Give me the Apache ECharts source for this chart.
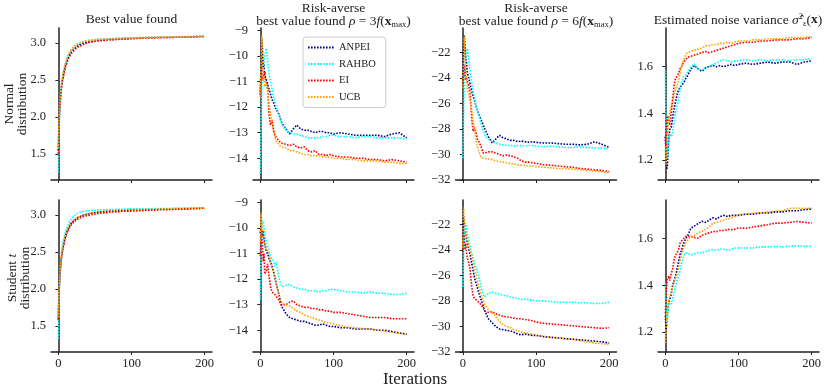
<!DOCTYPE html>
<html>
<head>
<meta charset="UTF-8">
<title>Noise benchmark</title>
<script src="https://cdn.jsdelivr.net/npm/echarts@6/dist/echarts.min.js"></script>
<style>
  html, body { margin: 0; padding: 0; background: #fff; }
</style>
</head>
<body>
<div id="main" style="width: 830px;height: 391px"></div>
<script>
// iteration grid the values were read at
var iters = [0,1,2,3,4,5,6,8,10,12,14,16,18,20,22,25,28,30,35,40,45,50,55,60,65,70,75,80,85,90,95,100,110,120,130,140,150,160,170,180,190,200];

var methods = ['ANPEI', 'RAHBO', 'EI', 'UCB'];
var colors = ['#00008b', '#00ffff', '#ff0000', '#ffa500'];

// --- Normal distribution: best value found
var normBestAnpei = [1.55,1.95,2.15,2.28,2.38,2.46,2.52,2.62,2.70,2.76,2.81,2.85,2.88,2.90,2.92,2.95,2.97,2.98,3.00,3.01,3.02,3.03,3.035,3.04,3.045,3.05,3.05,3.055,3.055,3.06,3.06,3.065,3.065,3.07,3.07,3.075,3.075,3.08,3.08,3.08,3.085,3.085];
var normBestRahbo = [1.25,1.80,2.12,2.30,2.40,2.48,2.55,2.65,2.72,2.78,2.83,2.87,2.90,2.92,2.94,2.97,2.99,3.00,3.02,3.03,3.04,3.045,3.05,3.05,3.055,3.055,3.06,3.06,3.06,3.065,3.065,3.065,3.07,3.07,3.075,3.075,3.08,3.08,3.085,3.085,3.09,3.09];
var normBestEi    = [1.50,1.92,2.12,2.26,2.36,2.44,2.50,2.60,2.68,2.74,2.79,2.83,2.86,2.88,2.90,2.93,2.95,2.96,2.98,3.00,3.01,3.02,3.025,3.03,3.035,3.04,3.04,3.045,3.05,3.05,3.05,3.055,3.06,3.065,3.065,3.07,3.07,3.075,3.075,3.08,3.08,3.085];
var normBestUcb   = [1.58,2.00,2.20,2.32,2.42,2.50,2.56,2.66,2.74,2.80,2.85,2.89,2.92,2.94,2.96,2.98,3.00,3.01,3.02,3.03,3.035,3.04,3.045,3.05,3.05,3.055,3.055,3.06,3.06,3.065,3.065,3.065,3.07,3.07,3.075,3.075,3.08,3.08,3.08,3.085,3.085,3.09];

// --- Normal distribution: risk-averse rho = 3 f(x_max)
var normR3Anpei = [-11.5,-10.2,-9.3,-9.8,-10.5,-10.3,-10.8,-10.9,-11.1,-11.3,-11.5,-11.7,-11.8,-12.0,-12.1,-12.25,-12.5,-12.65,-12.85,-13.05,-12.85,-12.7,-12.85,-12.9,-12.9,-12.95,-13.0,-12.95,-12.95,-13.0,-13.0,-13.05,-13.0,-13.05,-13.1,-13.1,-13.1,-13.1,-13.15,-13.05,-13.0,-13.2];
var normR3Rahbo = [-14.6,-12.5,-11.2,-10.6,-10.5,-10.3,-10.0,-9.7,-10.2,-10.7,-11.0,-11.3,-11.6,-11.8,-12.0,-12.3,-12.55,-12.7,-12.9,-13.0,-13.05,-13.05,-13.1,-13.15,-13.2,-13.2,-13.2,-13.2,-13.15,-13.15,-13.1,-13.1,-13.15,-13.15,-13.2,-13.15,-13.15,-13.2,-13.2,-13.2,-13.2,-13.25];
var normR3Ei    = [-11.5,-10.8,-10.5,-10.9,-10.8,-10.7,-10.6,-11.0,-11.2,-12.3,-12.7,-12.5,-12.9,-13.1,-13.2,-13.3,-13.4,-13.35,-13.45,-13.5,-13.45,-13.55,-13.6,-13.55,-13.7,-13.75,-13.7,-13.85,-13.85,-13.9,-13.85,-13.9,-13.95,-13.95,-14.0,-14.0,-14.05,-14.05,-14.1,-14.05,-14.1,-14.15];
var normR3Ucb   = [-11.6,-10.5,-9.2,-10.0,-11.0,-10.8,-11.2,-11.1,-11.4,-11.9,-12.3,-12.6,-12.9,-13.2,-13.35,-13.45,-13.55,-13.6,-13.6,-13.7,-13.7,-13.75,-13.8,-13.85,-13.85,-13.9,-13.9,-13.9,-13.95,-13.95,-13.95,-14.0,-14.0,-14.05,-14.05,-14.1,-14.1,-14.1,-14.15,-14.15,-14.2,-14.2];

// --- Normal distribution: risk-averse rho = 6 f(x_max)
var normR6Anpei = [-24.5,-22.0,-20.7,-21.5,-22.5,-22.8,-23.5,-24.0,-24.5,-25.0,-25.4,-25.8,-26.2,-26.6,-26.9,-27.3,-27.7,-28.0,-28.6,-29.1,-28.8,-28.5,-28.7,-28.8,-28.9,-28.9,-29.0,-28.95,-29.0,-29.05,-29.0,-29.05,-29.1,-29.1,-29.15,-29.2,-29.2,-29.25,-29.2,-29.0,-29.2,-29.45];
var normR6Rahbo = [-30.3,-27.0,-24.5,-23.0,-22.3,-22.0,-21.7,-22.5,-23.5,-24.3,-25.0,-25.6,-26.1,-26.6,-27.0,-27.6,-28.2,-28.5,-28.8,-29.0,-29.1,-29.2,-29.25,-29.3,-29.3,-29.35,-29.3,-29.3,-29.35,-29.3,-29.3,-29.35,-29.4,-29.35,-29.4,-29.45,-29.45,-29.4,-29.45,-29.5,-29.5,-29.55];
var normR6Ei    = [-24.6,-23.8,-23.0,-23.6,-24.2,-24.0,-24.3,-24.6,-25.2,-27.0,-28.2,-27.9,-28.3,-28.8,-29.0,-29.4,-29.9,-30.0,-29.8,-29.8,-29.9,-30.0,-30.1,-30.05,-30.1,-30.2,-30.3,-30.5,-30.6,-30.6,-30.65,-30.7,-30.8,-30.85,-30.9,-30.95,-31.0,-31.1,-31.15,-31.2,-31.25,-31.35];
var normR6Ucb   = [-24.8,-22.5,-20.8,-22.0,-23.5,-24.0,-24.8,-25.3,-25.8,-26.5,-27.3,-28.0,-28.8,-29.4,-29.8,-30.2,-30.3,-30.4,-30.35,-30.4,-30.5,-30.55,-30.6,-30.65,-30.7,-30.75,-30.8,-30.85,-30.85,-30.9,-30.9,-30.95,-31.0,-31.05,-31.1,-31.1,-31.15,-31.2,-31.25,-31.3,-31.35,-31.45];

// --- Normal distribution: estimated noise variance
var normVarAnpei = [1.30,1.22,1.16,1.18,1.25,1.30,1.33,1.34,1.38,1.42,1.45,1.48,1.50,1.50,1.52,1.53,1.55,1.56,1.59,1.605,1.59,1.58,1.595,1.60,1.605,1.60,1.605,1.60,1.605,1.61,1.605,1.61,1.615,1.61,1.615,1.62,1.615,1.62,1.62,1.61,1.62,1.625];
var normVarRahbo = [1.585,1.35,1.25,1.21,1.26,1.30,1.31,1.30,1.32,1.36,1.40,1.43,1.46,1.50,1.53,1.56,1.565,1.57,1.60,1.61,1.59,1.585,1.595,1.60,1.61,1.615,1.625,1.63,1.625,1.62,1.625,1.625,1.63,1.625,1.63,1.625,1.63,1.63,1.625,1.63,1.63,1.635];
var normVarEi    = [1.30,1.25,1.32,1.38,1.39,1.36,1.35,1.40,1.46,1.52,1.55,1.56,1.57,1.59,1.60,1.62,1.63,1.64,1.645,1.65,1.655,1.66,1.665,1.66,1.665,1.67,1.675,1.68,1.685,1.69,1.695,1.70,1.705,1.705,1.71,1.71,1.715,1.715,1.715,1.72,1.72,1.725];
var normVarUcb   = [1.26,1.18,1.22,1.30,1.35,1.38,1.40,1.43,1.45,1.48,1.50,1.52,1.54,1.57,1.60,1.63,1.65,1.66,1.665,1.67,1.675,1.68,1.69,1.69,1.695,1.695,1.70,1.70,1.705,1.70,1.705,1.71,1.71,1.715,1.715,1.72,1.72,1.72,1.725,1.725,1.725,1.73];

// --- Student t distribution: best value found
var stuBestAnpei = [1.60,1.98,2.18,2.30,2.40,2.48,2.54,2.64,2.72,2.78,2.82,2.86,2.89,2.91,2.93,2.95,2.97,2.98,3.00,3.01,3.02,3.03,3.035,3.04,3.045,3.05,3.05,3.055,3.055,3.06,3.06,3.065,3.065,3.07,3.07,3.075,3.075,3.08,3.08,3.085,3.085,3.09];
var stuBestRahbo = [1.33,1.85,2.15,2.32,2.44,2.52,2.60,2.70,2.78,2.84,2.88,2.92,2.95,2.97,2.99,3.01,3.03,3.04,3.05,3.055,3.06,3.06,3.065,3.065,3.07,3.07,3.07,3.075,3.075,3.075,3.08,3.08,3.08,3.08,3.085,3.085,3.085,3.09,3.09,3.09,3.09,3.095];
var stuBestEi    = [1.58,1.96,2.16,2.28,2.38,2.46,2.52,2.62,2.70,2.76,2.80,2.84,2.87,2.89,2.91,2.93,2.95,2.96,2.98,2.99,3.00,3.01,3.02,3.025,3.03,3.035,3.04,3.04,3.045,3.05,3.05,3.05,3.055,3.06,3.065,3.07,3.07,3.075,3.08,3.08,3.085,3.09];
var stuBestUcb   = [1.62,2.00,2.20,2.32,2.42,2.50,2.56,2.66,2.73,2.79,2.83,2.87,2.90,2.92,2.94,2.96,2.975,2.985,3.00,3.015,3.025,3.03,3.04,3.045,3.05,3.05,3.055,3.06,3.06,3.065,3.065,3.07,3.07,3.075,3.075,3.08,3.08,3.085,3.085,3.09,3.09,3.09];

// --- Student t distribution: risk-averse rho = 3 f(x_max)
var stuR3Anpei = [-10.2,-9.9,-10.1,-10.3,-10.1,-10.4,-10.6,-10.9,-11.0,-11.2,-11.35,-11.5,-11.7,-11.95,-12.2,-12.55,-12.9,-13.1,-13.35,-13.5,-13.55,-13.6,-13.65,-13.65,-13.7,-13.75,-13.8,-13.8,-13.75,-13.8,-13.85,-13.85,-13.9,-13.9,-13.95,-13.95,-13.95,-14.0,-14.0,-14.05,-14.1,-14.15];
var stuR3Rahbo = [-12.8,-11.0,-10.0,-9.7,-9.8,-10.0,-10.2,-10.5,-10.7,-10.9,-11.1,-11.2,-11.3,-11.5,-11.3,-11.9,-12.2,-12.3,-12.25,-12.2,-12.3,-12.35,-12.4,-12.4,-12.45,-12.45,-12.45,-12.5,-12.45,-12.45,-12.4,-12.4,-12.45,-12.5,-12.5,-12.55,-12.5,-12.55,-12.55,-12.6,-12.6,-12.55];
var stuR3Ei    = [-11.1,-10.0,-10.3,-10.8,-11.3,-11.0,-11.8,-11.7,-11.4,-11.9,-12.3,-12.5,-12.5,-12.6,-12.6,-12.8,-13.0,-12.95,-13.0,-12.9,-12.85,-13.0,-13.05,-13.1,-13.1,-13.15,-13.15,-13.2,-13.2,-13.25,-13.25,-13.3,-13.3,-13.35,-13.4,-13.45,-13.5,-13.5,-13.5,-13.55,-13.55,-13.55];
var stuR3Ucb   = [-10.5,-9.4,-9.8,-10.1,-10.3,-10.5,-10.7,-10.8,-10.9,-11.0,-11.2,-11.5,-11.7,-11.9,-12.2,-12.6,-12.85,-12.95,-13.0,-13.05,-13.15,-13.25,-13.3,-13.4,-13.45,-13.5,-13.55,-13.6,-13.65,-13.7,-13.72,-13.75,-13.82,-13.88,-13.9,-13.93,-13.95,-14.0,-14.03,-14.08,-14.12,-14.18];

// --- Student t distribution: risk-averse rho = 6 f(x_max)
var stuR6Anpei = [-23.0,-21.5,-22.0,-22.4,-22.8,-23.1,-23.4,-23.9,-24.4,-25.0,-25.6,-26.2,-26.6,-27.0,-27.4,-27.9,-28.4,-28.8,-29.4,-29.7,-30.0,-30.2,-30.25,-30.3,-30.35,-30.45,-30.6,-30.65,-30.6,-30.65,-30.7,-30.7,-30.8,-30.85,-30.9,-30.95,-31.0,-31.05,-31.1,-31.15,-31.2,-31.3];
var stuR6Rahbo = [-26.9,-24.5,-23.0,-22.2,-21.9,-22.3,-22.8,-23.2,-23.8,-24.2,-24.6,-25.0,-25.4,-25.6,-25.6,-26.9,-27.5,-27.7,-27.4,-27.3,-27.4,-27.5,-27.55,-27.6,-27.7,-27.75,-27.8,-27.9,-27.85,-27.9,-27.95,-28.0,-28.0,-28.05,-28.1,-28.1,-28.1,-28.15,-28.15,-28.2,-28.2,-28.1];
var stuR6Ei    = [-24.0,-22.5,-23.2,-24.0,-23.5,-24.2,-24.6,-25.0,-25.6,-26.8,-27.6,-27.8,-27.9,-28.0,-28.1,-28.3,-28.6,-28.8,-28.9,-28.85,-29.0,-29.1,-29.2,-29.25,-29.3,-29.35,-29.4,-29.4,-29.45,-29.5,-29.55,-29.65,-29.75,-29.8,-29.85,-29.9,-29.95,-30.0,-30.05,-30.1,-30.15,-30.1];
var stuR6Ucb   = [-23.8,-20.7,-21.5,-22.2,-22.6,-22.9,-23.2,-23.7,-24.1,-24.4,-24.9,-25.4,-25.9,-26.4,-26.9,-27.5,-28.0,-28.3,-28.7,-28.9,-29.2,-29.6,-29.85,-30.0,-30.1,-30.25,-30.35,-30.45,-30.5,-30.55,-30.6,-30.7,-30.75,-30.85,-30.9,-30.95,-31.0,-31.1,-31.2,-31.3,-31.35,-31.4];

// --- Student t distribution: estimated noise variance
var stuVarAnpei = [1.27,1.21,1.24,1.28,1.31,1.33,1.34,1.36,1.40,1.42,1.44,1.47,1.50,1.53,1.55,1.58,1.60,1.61,1.645,1.655,1.665,1.675,1.67,1.68,1.69,1.685,1.695,1.70,1.695,1.70,1.70,1.70,1.705,1.705,1.71,1.71,1.715,1.715,1.72,1.72,1.725,1.727];
var stuVarRahbo = [1.41,1.30,1.24,1.27,1.30,1.32,1.33,1.32,1.34,1.37,1.40,1.42,1.44,1.46,1.49,1.525,1.54,1.546,1.53,1.535,1.54,1.54,1.545,1.55,1.553,1.55,1.555,1.555,1.55,1.555,1.56,1.56,1.56,1.56,1.565,1.565,1.567,1.565,1.567,1.57,1.567,1.567];
var stuVarEi    = [1.28,1.36,1.40,1.43,1.43,1.44,1.42,1.45,1.47,1.51,1.53,1.53,1.55,1.58,1.59,1.60,1.61,1.61,1.61,1.605,1.603,1.615,1.62,1.625,1.631,1.63,1.635,1.635,1.64,1.639,1.64,1.646,1.645,1.65,1.655,1.66,1.667,1.667,1.67,1.674,1.67,1.667];
var stuVarUcb   = [1.153,1.22,1.27,1.30,1.32,1.34,1.35,1.37,1.39,1.41,1.43,1.45,1.467,1.50,1.53,1.56,1.58,1.59,1.61,1.615,1.625,1.631,1.64,1.65,1.667,1.67,1.675,1.68,1.685,1.689,1.695,1.703,1.705,1.71,1.71,1.715,1.717,1.72,1.73,1.731,1.73,1.731];

// axis settings per column
var yMin = [1.15, -14.85, -32.0, 1.114];
var yMax = [3.2, -8.9, -20.1, 1.766];
var yTicks = [[1.5, 2.0, 2.5, 3.0], [-14, -13, -12, -11, -10, -9], [-32, -30, -28, -26, -24, -22], [1.2, 1.4, 1.6]];
var yDecimals = [1, 0, 0, 1];
var xTicks = [0, 100, 200];

var panels = [
    [normBestAnpei, normBestRahbo, normBestEi, normBestUcb],
    [normR3Anpei, normR3Rahbo, normR3Ei, normR3Ucb],
    [normR6Anpei, normR6Rahbo, normR6Ei, normR6Ucb],
    [normVarAnpei, normVarRahbo, normVarEi, normVarUcb],
    [stuBestAnpei, stuBestRahbo, stuBestEi, stuBestUcb],
    [stuR3Anpei, stuR3Rahbo, stuR3Ei, stuR3Ucb],
    [stuR6Anpei, stuR6Rahbo, stuR6Ei, stuR6Ucb],
    [stuVarAnpei, stuVarRahbo, stuVarEi, stuVarUcb]
];

var FONT = '"Liberation Serif", "DejaVu Serif", serif';
var gridLeft = [51, 253, 455.5, 658];
var gridTop = [28, 200];

function minus(v) { return String(v).replace('-', '\u2212'); }

var grids = [], xAxes = [], yAxes = [], series = [];
for (var p = 0; p < 8; p++) {
    var col = p % 4, row = Math.floor(p / 4);
    grids.push({ left: gridLeft[col], top: gridTop[row], width: 161, height: 152 });
    xAxes.push({
        type: 'value', gridIndex: p, min: -10, max: 210,
        axisLine: { lineStyle: { color: '#222', width: 1.5 } },
        axisTick: { show: true, length: 3, customValues: xTicks, lineStyle: { color: '#222' } },
        axisLabel: { show: row === 1, customValues: xTicks, fontFamily: FONT, fontSize: 12.5, color: '#222', margin: 5 },
        splitLine: { show: false }
    });
    (function (c) {
        yAxes.push({
            type: 'value', gridIndex: p, min: yMin[c], max: yMax[c],
            axisLine: { show: true, lineStyle: { color: '#222', width: 1.5 } },
            axisTick: { show: true, length: 3, customValues: yTicks[c], lineStyle: { color: '#222' } },
            axisLabel: {
                customValues: yTicks[c], fontFamily: FONT, fontSize: 12.5, color: '#222', margin: 5,
                formatter: function (v) { return minus(v.toFixed(yDecimals[c])); }
            },
            splitLine: { show: false }
        });
    })(col);
    for (var m = 0; m < 4; m++) {
        var vals = panels[p][m];
        series.push({
            name: methods[m], type: 'line', xAxisIndex: p, yAxisIndex: p,
            data: iters.map(function (it, i) { return [it, vals[i]]; }),
            showSymbol: false, symbol: 'none', silent: true, animation: false,
            color: colors[m],
            lineStyle: { color: colors[m], width: 1.6, type: [1.6, 1.4] }
        });
    }
}

var titleRich = {
    i: { fontStyle: 'italic', fontFamily: FONT, fontSize: 13.5, fill: '#222' },
    b: { fontWeight: 'bold', fontFamily: FONT, fontSize: 13.5, fill: '#222' },
    s: { fontFamily: FONT, fontSize: 8.5, fill: '#222', padding: [7, 0, 0, 0] },
    sup: { fontFamily: FONT, fontSize: 8.5, fill: '#222', padding: [0, 0, 7, 0] }
};

function textEl(x, y, text, size, rot) {
    return {
        type: 'text', x: x, y: y, rotation: rot || 0, silent: true,
        style: {
            text: text, fontFamily: FONT, fontSize: size, fill: '#222',
            align: 'center', verticalAlign: 'middle', lineHeight: size * 0.95, rich: titleRich
        }
    };
}

var chart = echarts.init(document.getElementById('main'));
chart.setOption({
    animation: false,
    backgroundColor: '#fff',
    grid: grids,
    xAxis: xAxes,
    yAxis: yAxes,
    series: series,
    legend: {
        data: methods, orient: 'vertical', left: 303, top: 37,
        itemWidth: 26, itemHeight: 8, itemGap: 5.5,
        itemStyle: { opacity: 0 },
        backgroundColor: '#fff', borderColor: '#ccc', borderWidth: 1, borderRadius: 3,
        padding: [5, 10, 5, 4],
        textStyle: { fontFamily: FONT, fontSize: 10.5, color: '#222' }
    },
    graphic: [
        textEl(131.5, 19, 'Best value found', 13.5),
        textEl(333.5, 15, 'Risk-averse\nbest value found {i|\u03c1} = 3{i|f}({b|x}{s|max})', 13.5),
        textEl(536, 15, 'Risk-averse\nbest value found {i|\u03c1} = 6{i|f}({b|x}{s|max})', 13.5),
        textEl(738, 20, 'Estimated noise variance {i|\u03c3\u0302}{sup|2}{s|\u03b5}({b|x})', 13.5),
        textEl(16, 104, 'Normal\ndistribution', 13.5, Math.PI / 2),
        textEl(19, 278, 'Student {i|t}\ndistribution', 13.5, Math.PI / 2),
        textEl(415, 380, 'Iterations', 17)
    ]
});
</script>
</body>
</html>
